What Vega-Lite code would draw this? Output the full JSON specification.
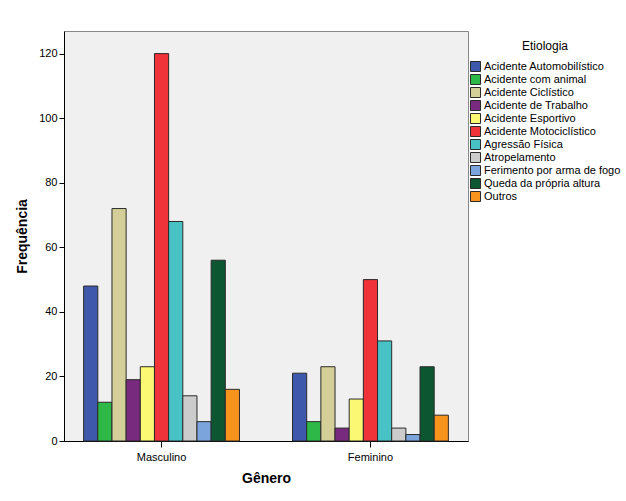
{
  "$schema": "https://vega.github.io/schema/vega-lite/v6.json",
  "width": 404,
  "height": 410,
  "autosize": {"type": "none"},
  "padding": {"left": 64, "top": 31, "right": 158, "bottom": 60},
  "background": "white",
  "config": {
    "font": "Liberation Sans",
    "view": {"fill": "#f0f0f0", "stroke": "#888888", "strokeWidth": 1},
    "axis": {"domainColor": "#000000", "tickColor": "#000000", "labelColor": "#000000", "titleColor": "#000000", "labelFontSize": 11, "titleFontSize": 14, "titleFontWeight": "bold", "grid": false}
  },
  "data": {
    "values": [
      {"Gênero": "Masculino", "Etiologia": "Acidente Automobilístico", "Frequência": 48},
      {"Gênero": "Masculino", "Etiologia": "Acidente com animal", "Frequência": 12},
      {"Gênero": "Masculino", "Etiologia": "Acidente Ciclístico", "Frequência": 72},
      {"Gênero": "Masculino", "Etiologia": "Acidente de Trabalho", "Frequência": 19},
      {"Gênero": "Masculino", "Etiologia": "Acidente Esportivo", "Frequência": 23},
      {"Gênero": "Masculino", "Etiologia": "Acidente Motociclístico", "Frequência": 120},
      {"Gênero": "Masculino", "Etiologia": "Agressão Física", "Frequência": 68},
      {"Gênero": "Masculino", "Etiologia": "Atropelamento", "Frequência": 14},
      {"Gênero": "Masculino", "Etiologia": "Ferimento por arma de fogo", "Frequência": 6},
      {"Gênero": "Masculino", "Etiologia": "Queda da própria altura", "Frequência": 56},
      {"Gênero": "Masculino", "Etiologia": "Outros", "Frequência": 16},
      {"Gênero": "Feminino", "Etiologia": "Acidente Automobilístico", "Frequência": 21},
      {"Gênero": "Feminino", "Etiologia": "Acidente com animal", "Frequência": 6},
      {"Gênero": "Feminino", "Etiologia": "Acidente Ciclístico", "Frequência": 23},
      {"Gênero": "Feminino", "Etiologia": "Acidente de Trabalho", "Frequência": 4},
      {"Gênero": "Feminino", "Etiologia": "Acidente Esportivo", "Frequência": 13},
      {"Gênero": "Feminino", "Etiologia": "Acidente Motociclístico", "Frequência": 50},
      {"Gênero": "Feminino", "Etiologia": "Agressão Física", "Frequência": 31},
      {"Gênero": "Feminino", "Etiologia": "Atropelamento", "Frequência": 4},
      {"Gênero": "Feminino", "Etiologia": "Ferimento por arma de fogo", "Frequência": 2},
      {"Gênero": "Feminino", "Etiologia": "Queda da própria altura", "Frequência": 23},
      {"Gênero": "Feminino", "Etiologia": "Outros", "Frequência": 8}
    ]
  },
  "mark": {"type": "bar", "stroke": "#2a2a2a", "strokeWidth": 1},
  "encoding": {
    "x": {
      "field": "Gênero", "type": "nominal", "sort": ["Masculino", "Feminino"],
      "scale": {"paddingInner": 0.254, "paddingOuter": 0.094},
      "axis": {"labelAngle": 0, "title": "Gênero", "titlePadding": 9, "labelPadding": 4, "tickSize": 6}
    },
    "xOffset": {
      "field": "Etiologia", "type": "nominal",
      "sort": ["Acidente Automobilístico", "Acidente com animal", "Acidente Ciclístico", "Acidente de Trabalho", "Acidente Esportivo", "Acidente Motociclístico", "Agressão Física", "Atropelamento", "Ferimento por arma de fogo", "Queda da própria altura", "Outros"],
      "scale": {"paddingInner": 0, "paddingOuter": 0}
    },
    "y": {
      "field": "Frequência", "type": "quantitative",
      "scale": {"domain": [0, 127], "nice": false},
      "axis": {"values": [0, 20, 40, 60, 80, 100, 120], "title": "Frequência", "titlePadding": 9, "tickSize": 5, "labelPadding": 2}
    },
    "color": {
      "field": "Etiologia", "type": "nominal",
      "sort": ["Acidente Automobilístico", "Acidente com animal", "Acidente Ciclístico", "Acidente de Trabalho", "Acidente Esportivo", "Acidente Motociclístico", "Agressão Física", "Atropelamento", "Ferimento por arma de fogo", "Queda da própria altura", "Outros"],
      "scale": {
        "domain": ["Acidente Automobilístico", "Acidente com animal", "Acidente Ciclístico", "Acidente de Trabalho", "Acidente Esportivo", "Acidente Motociclístico", "Agressão Física", "Atropelamento", "Ferimento por arma de fogo", "Queda da própria altura", "Outros"],
        "range": ["#3e58ac", "#2eb848", "#d4cf98", "#782a7e", "#fbf873", "#ef3338", "#48c2c5", "#cccccc", "#7ba4dc", "#0d5632", "#f7941e"]
      },
      "legend": {
        "orient": "none", "legendX": 406, "legendY": 10,
        "title": "Etiologia", "titleFontSize": 12, "titleFontWeight": "normal", "titleColor": "#000000",
        "titleAnchor": "middle", "titlePadding": 8,
        "labelFontSize": 11, "labelColor": "#000000", "labelLimit": 200,
        "symbolType": "square", "symbolSize": 100, "symbolStrokeColor": "#2a2a2a", "symbolStrokeWidth": 1,
        "rowPadding": -2.2, "labelOffset": 3
      }
    }
  }
}
